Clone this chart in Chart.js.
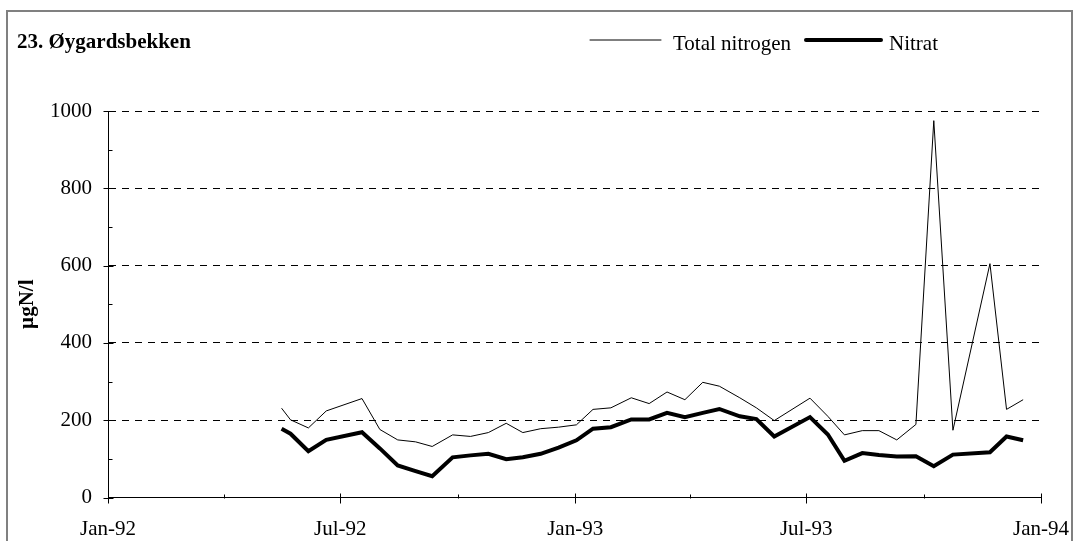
<!DOCTYPE html>
<html>
<head>
<meta charset="utf-8">
<script src="https://cdn.jsdelivr.net/npm/chart.js@4"></script>
<style>
  html, body { margin: 0; padding: 0; background: #fff; }
  canvas { display: block; }
</style>
</head>
<body>
<canvas id="c" width="1074" height="541"></canvas>
<script>
// ---- data ----
const chartTitle = "23. Øygardsbekken";
const yAxisTitle = "µgN/l";
const seriesNames = ["Total nitrogen", "Nitrat"];

const sampleDates = ["1992-05-16","1992-05-23","1992-06-06","1992-06-20","1992-07-18","1992-08-01","1992-08-15","1992-08-29","1992-09-11","1992-09-27","1992-10-11","1992-10-25","1992-11-08","1992-11-21","1992-12-05","1992-12-19",
  "1993-01-02","1993-01-15","1993-01-29","1993-02-14","1993-02-28","1993-03-14","1993-03-28","1993-04-11","1993-04-24","1993-05-10","1993-05-23","1993-06-06","1993-07-04","1993-07-18","1993-07-31","1993-08-14","1993-08-27","1993-09-10","1993-09-25","1993-10-09","1993-10-24","1993-11-22","1993-12-05","1993-12-18"];

const totalNitrogen = [231,201,180,224,256,176,149,144,132,162,158,168,192,168,178,182,
  188,228,232,258,243,273,253,298,288,258,232,199,257,210,162,173,173,149,189,975,174,605,228,253];

const nitrat = [178,165,120,149,169,127,83,68,55,104,109,113,99,104,113,129,
  148,178,182,202,202,219,208,219,229,210,203,158,208,163,95,115,110,106,107,81,111,117,158,148];

const xTickDates = ["1992-01-01","1992-07-01","1993-01-01","1993-07-01","1994-01-01"];
const xTickLabels = ["Jan-92","Jul-92","Jan-93","Jul-93","Jan-94"];
const xMinorTickDates = ["1992-04-01","1992-10-01","1993-04-01","1993-10-01"];
const yTicks = [0,200,400,600,800,1000];
const yMinorTicks = [100,300,500,700,900];

// ---- helpers ----
const ORIGIN = Date.UTC(1992,0,1);
function dayNum(s){ const p = s.split('-').map(Number); return (Date.UTC(p[0],p[1]-1,p[2]) - ORIGIN)/86400000; }
const xTickDays = xTickDates.map(dayNum);
const xMinorDays = xMinorTickDates.map(dayNum);
const FONT = "'Liberation Serif', 'Times New Roman', serif";

const totalPts = sampleDates.map((d,i)=>({x: dayNum(d), y: totalNitrogen[i]}));
const nitratPts = sampleDates.map((d,i)=>({x: dayNum(d), y: nitrat[i]}));

const decorPlugin = {
  id: 'decor',
  beforeDraw(chart){
    const ctx = chart.ctx;
    ctx.save();
    ctx.fillStyle = '#fff';
    ctx.fillRect(0,0,chart.width,chart.height);
    ctx.strokeStyle = '#808080';
    ctx.lineWidth = 2;
    ctx.strokeRect(7, 11, 1065, 560);
    ctx.restore();
  },
  afterDraw(chart){
    const ctx = chart.ctx;
    const xs = chart.scales.x, ys = chart.scales.y;
    ctx.save();
    // title
    ctx.fillStyle = '#000';
    ctx.font = "bold 21px " + FONT;
    ctx.textBaseline = 'alphabetic';
    ctx.textAlign = 'left';
    ctx.fillText(chartTitle, 17, 48);
    // legend
    ctx.font = "21px " + FONT;
    const ds = chart.data.datasets;
    const items = [{x1:590,x2:661,tx:673},{x1:806,x2:881,tx:889}];
    items.forEach((it,i)=>{
      ctx.strokeStyle = ds[i].borderColor;
      ctx.lineWidth = ds[i].borderWidth;
      ctx.lineCap = 'round';
      ctx.beginPath(); ctx.moveTo(it.x1,40); ctx.lineTo(it.x2,40); ctx.stroke();
      ctx.fillText(ds[i].label, it.tx, 50);
    });
    // axis tick marks
    ctx.lineCap = 'butt';
    ctx.strokeStyle = '#000';
    ctx.lineWidth = 1;
    const ay = Math.round(ys.getPixelForValue(0)) + 0.5;
    const ax = Math.round(xs.getPixelForValue(0)) + 0.5;
    ctx.beginPath();
    xTickDays.forEach(d=>{ const px = Math.round(xs.getPixelForValue(d))+0.5; ctx.moveTo(px, ay-5); ctx.lineTo(px, ay+5); });
    xMinorDays.forEach(d=>{ const px = Math.round(xs.getPixelForValue(d))+0.5; ctx.moveTo(px, ay-4); ctx.lineTo(px, ay); });
    yTicks.forEach(v=>{ const py = Math.round(ys.getPixelForValue(v))+0.5; ctx.moveTo(ax-5, py); ctx.lineTo(ax+5, py); });
    yMinorTicks.forEach(v=>{ const py = Math.round(ys.getPixelForValue(v))+0.5; ctx.moveTo(ax, py); ctx.lineTo(ax+4, py); });
    ctx.stroke();
    ctx.restore();
  }
};

new Chart(document.getElementById('c'), {
  type: 'line',
  data: {
    datasets: [
      { label: seriesNames[0], data: totalPts, borderColor: '#000', backgroundColor: '#000', borderWidth: 1, pointRadius: 0, tension: 0, order: 1 },
      { label: seriesNames[1], data: nitratPts, borderColor: '#000', backgroundColor: '#000', borderWidth: 4, pointRadius: 0, tension: 0, order: 2 }
    ]
  },
  options: {
    responsive: false,
    animation: false,
    devicePixelRatio: 1,
    layout: { padding: { top: 111, right: 33, left: 0, bottom: 0 } },
    plugins: { legend: { display: false }, title: { display: false }, tooltip: { enabled: false } },
    scales: {
      x: {
        type: 'linear',
        min: xTickDays[0],
        max: xTickDays[xTickDays.length-1],
        afterBuildTicks(scale){ scale.ticks = xTickDays.map(v=>({value:v})); },
        afterFit(scale){ scale.height = 43.5; scale.paddingLeft = 0; scale.paddingRight = 0; },
        grid: { display: false, drawTicks: false },
        border: { display: true, color: '#000', width: 1 },
        ticks: {
          autoSkip: false, maxRotation: 0, padding: 19, color: '#000',
          font: { family: FONT, size: 21 },
          callback(v){ const i = xTickDays.indexOf(v); return i >= 0 ? xTickLabels[i] : ''; }
        }
      },
      y: {
        type: 'linear',
        min: 0, max: 1000,
        afterBuildTicks(scale){ scale.ticks = yTicks.map(v=>({value:v})); },
        afterFit(scale){ scale.width = 108; scale.paddingTop = 0; scale.paddingBottom = 0; },
        grid: {
          drawTicks: false,
          color(ctx){ return ctx.tick && ctx.tick.value === 0 ? 'rgba(0,0,0,0)' : '#000'; },
          lineWidth: 1
        },
        border: { display: true, color: '#000', width: 1, dash: [7,6] },
        title: { display: true, text: yAxisTitle, color: '#000', font: { family: FONT, size: 21, weight: 'bold' }, padding: { top: 15, bottom: 0 } },
        ticks: { padding: 16, color: '#000', font: { family: FONT, size: 21 }, callback(v){ return String(v); } }
      }
    }
  },
  plugins: [decorPlugin]
});
</script>
</body>
</html>
